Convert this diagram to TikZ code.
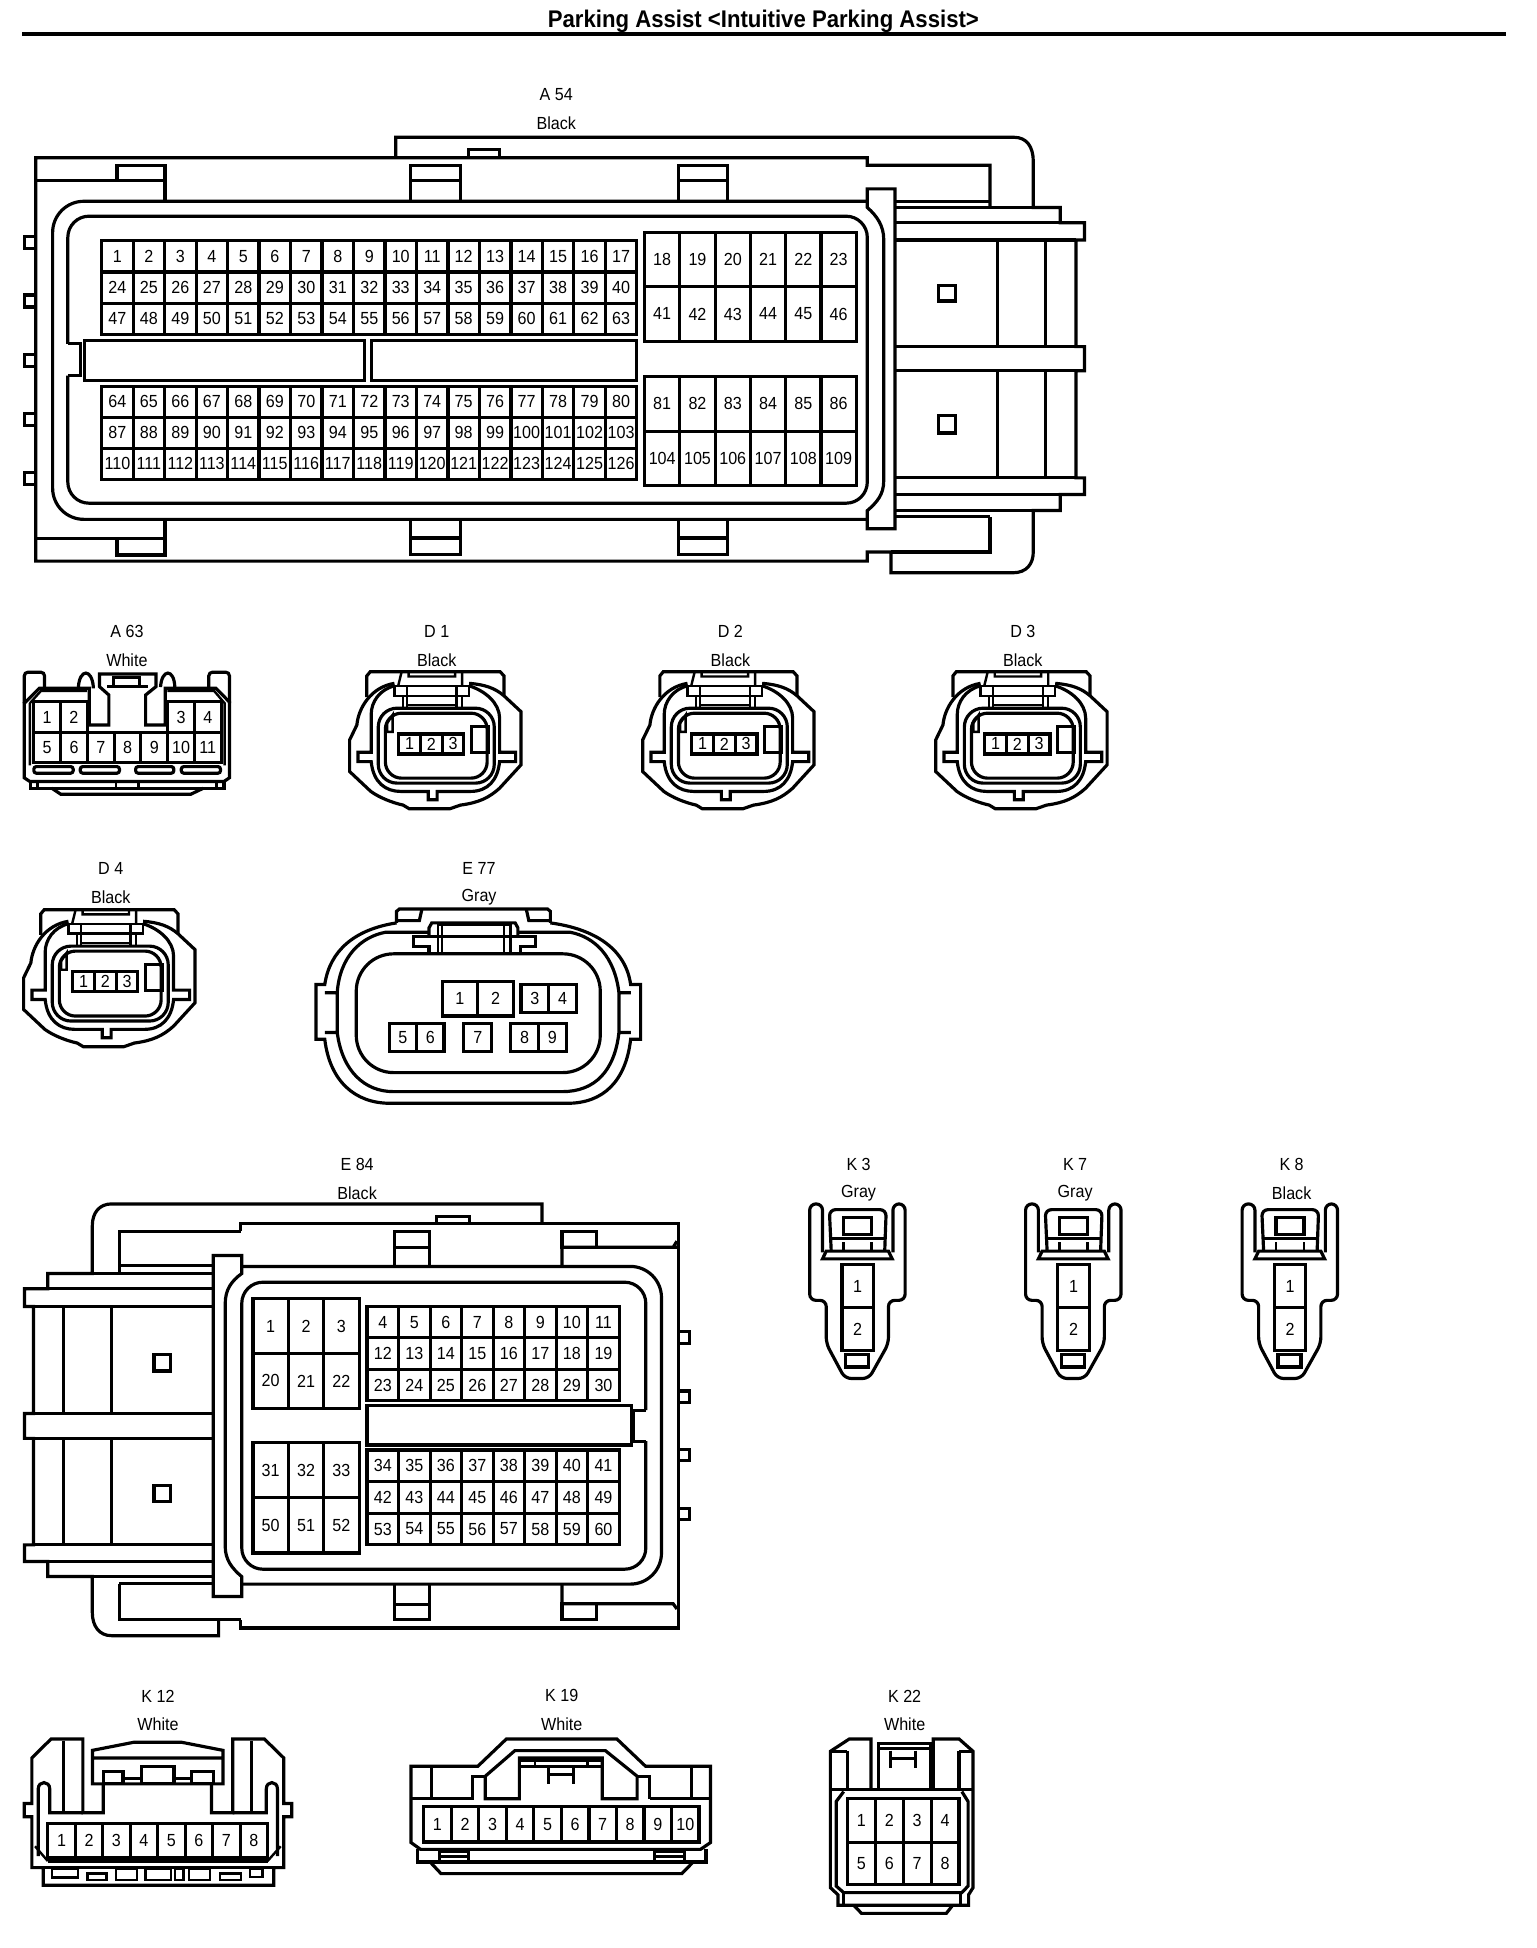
\documentclass[tikz,border=0pt]{standalone}
\usepackage{fontspec}
\setmainfont[FakeStretch=0.92]{Liberation Sans}
\usepackage{tikz}
\tikzset{
    pincell/.style={draw,inner sep=0,outer sep=0,font=\fontsize{8}{9}\selectfont},
    conlabel/.style={inner sep=0,font=\fontsize{8}{9}\selectfont},
    thinline/.style={line width=1.1pt}
}

\begin{document}
\begin{tikzpicture}[x=0.01997cm,y=-0.01995cm,line width=1.45pt,line join=miter]
    \providecommand{\pinrow}{}
    % prefix, left, top, cell width, cell height, numbers
    \renewcommand{\pinrow}[6]{
        \foreach \n [count=\i from 0] in {#6} {
            \node[pincell,minimum width=#4*0.01997cm,minimum height=#5*0.01995cm] (#1p\n) at ({#2+(\i+0.5)*#4},{#3+0.5*#5}) {\n};
        }
    }
    \providecommand{\conname}{}
    % node name, x, y, connector, colour
    \renewcommand{\conname}[5]{
        \node[conlabel] (#1) at (#2,#3) {#4};
        \node[conlabel] (#1c) at (#2,#3+23) {#5};
    }
    \providecommand{\dplug}{}
    % prefix, shift x, shift y (drawn at D 1)
    \renewcommand{\dplug}[3]{
        \begin{scope}[shift={(#2,#3)}]
            \draw (294.8,561) -- (294.8,544) -- (297.5,540.7) -- (402,540.7) -- (405,544) -- (405,560);
            \draw (317,550) .. controls (298,553) and (288,570) .. (286.8,583.5) -- (281,595.5) -- (281,621) -- (298,637) .. controls (305,642) and (315,646) .. (324,648) -- (329,651) -- (361.4,651) -- (370,648) .. controls (385,646) and (393,642) .. (401.5,634.4) -- (418.7,615.6) -- (418.7,572.8) -- (405,560) .. controls (398,554) and (390,551) .. (377,550);
            \draw (317,552) .. controls (305,555) and (298.3,565) .. (298.3,575) -- (298.3,605.4) -- (287.7,605.4) -- (287.7,613) -- (298.3,613) .. controls (300,630) and (310,637) .. (322,637) -- (344.2,637) -- (344.2,643.7) -- (351.3,643.7) -- (351.3,637) -- (378,637) .. controls (392,637) and (400,628) .. (401.5,613) -- (414.4,613) -- (414.4,605.4) -- (401.5,605.4) -- (401.5,578) .. controls (401.5,566) and (390,556) .. (377,552);
            \draw[rounded corners=0.3cm] (304,570) rectangle (397.2,630.3);
            \draw[rounded corners=0.26cm] (309.7,574) rectangle (391.5,626.3);
            \draw[thinline] (317,552) rectangle (327,560) (367,552) rectangle (377,560);
            \draw[thinline] (327,552) -- (367,552) (327,560) -- (367,560) (327,567.4) -- (367,567.4);
            \draw[thinline] (324,560) -- (324,570) (327,560) -- (327,570) (367,560) -- (367,570) (371.4,560) -- (371.4,570);
            \draw[thinline] (322.7,541) -- (320,552) (371.4,541) -- (371.4,552) (328.4,541) -- (328.4,544.5) -- (365.7,544.5) -- (365.7,541);
            \draw[thinline] (315.5,575.5) -- (311.2,582) -- (311.2,589) -- (315.5,589) -- cycle;
            \pinrow{#1}{320.4}{590.7}{17.47}{16.1}{1,2,3}
            \draw (378.6,585) rectangle (392.3,605.4);
        \end{scope}
    }
    \providecommand{\kplug}{}
    % prefix, shift x (drawn at K 3)
    \renewcommand{\kplug}[2]{
        \begin{scope}[shift={(#2,0)}]
            \draw[rounded corners=0.1cm] (661,1008) -- (661,969) -- (650.7,969) -- (650.7,1046.6) -- (664,1046.6) -- (664,1081.4) -- (679,1109.5) -- (698.3,1109.5) -- (714,1081.4) -- (714,1046.6) -- (727.4,1046.6) -- (727.4,969) -- (717.6,969) -- (717.6,1008);
            \draw[rounded corners=0.1cm] (668,1007) -- (666.5,973.6) -- (712.2,973.6) -- (711,1007);
            \draw (678,979.7) rectangle (700.4,993.6);
            \draw (667.5,997) -- (711,997);
            \draw[thinline] (678,1000) -- (678,1007) (700.4,1000) -- (700.4,1007);
            \draw (664,1007) -- (714,1007) -- (717,1013.2) -- (661,1013.2) -- cycle;
            \pinrow{#1}{676.6}{1017.7}{25.2}{34.8}{1}
            \pinrow{#1}{676.6}{1052.5}{25.2}{34.8}{2}
            \draw (679.6,1090.5) rectangle (698,1100.2);
        \end{scope}
    }
    \useasboundingbox (0,0) rectangle (1234.85,1567.9);
    \fill[white] (0,0) rectangle (1234.85,1567.9);
    % title
    \node[inner sep=0,font=\fontsize{11}{13}\selectfont\bfseries] (title) at (613.5,17.5) {Parking Assist <Intuitive Parking Assist>};
    \coordinate (rulel) at (18,27.5);
    \coordinate (ruler) at (1210,27.5);
    \draw[line width=2pt] (rulel) -- (ruler);

    % A 54
    \conname{afs}{447}{76}{A 54}{Black}
    \draw (318,127) -- (318,110.5) -- (815,110.5) .. controls (825,110.5) and (830.4,118) .. (830.4,130) -- (830.4,167) -- (852,167) -- (852,179.3) -- (871.6,179.3) -- (871.6,193.2) -- (864.7,193.2) -- (864.7,279) -- (871.6,279) -- (871.6,298.4) -- (864.7,298.4) -- (864.7,384.6) -- (871.6,384.6) -- (871.6,398) -- (852,398) -- (852,410.9) -- (830.4,410.9) -- (830.4,444) .. controls (830.4,454) and (825,461) .. (814,461) -- (716,461) -- (716,444.3) -- (697,444.3) -- (697,451.6) -- (28.7,451.6) -- (28.7,127) -- (697,127) -- (697,133) -- (795.6,133) -- (795.6,167);
    \draw (716,444.3) -- (795.6,444.3) -- (795.6,416);
    \draw (376.4,127) -- (376.4,120.3) -- (401.5,120.3) -- (401.5,127);
    \draw (28.7,145.2) -- (132.6,145.2) -- (132.6,162) (94,145.2) -- (94,133.3) -- (132.6,133.3) -- (132.6,145.2);
    \draw (28.7,433.5) -- (132.6,433.5) (132.6,418) -- (132.6,446.7) -- (94,446.7) -- (94,433.5);
    \foreach \xa/\xb in {330/370.3,545.5/584.7} {
        \draw (\xa,162) -- (\xa,133.3) -- (\xb,133.3) -- (\xb,162) (\xa,145.4) -- (\xb,145.4);
        \draw (\xa,418) -- (\xa,446.4) -- (\xb,446.4) -- (\xb,418) (\xa,433) -- (\xb,433);
    }
    \foreach \y in {190.6,237.5,285.4,333,380.4} {
        \draw (29,\y) -- (19.7,\y) -- (19.7,\y+9.6) -- (29,\y+9.6);
    }
    \draw[rounded corners=0.5cm] (697,162) -- (42.3,162) -- (42.3,418) -- (697,418);
    \draw[rounded corners=0.34cm] (54.5,276.7) -- (54.5,174) -- (697,174) -- (697,405) -- (54.5,405) -- (54.5,302.3);
    \draw (54.5,302.3) -- (64.5,302.3) -- (64.5,276.7) -- (54.5,276.7);
    \draw (68,274) rectangle (293.2,306) (298.6,274) rectangle (511.6,306);
    \draw[fill=white] (697,152) -- (719.2,152) -- (719.2,425.6) -- (697,425.6) -- (697,411) .. controls (705,404) and (710.2,398) .. (710.2,386.8) -- (710.2,192.7) .. controls (710.2,182) and (705,174) .. (697,167) -- cycle;
    \draw (719.2,162.4) -- (795.6,162.4) (719.2,167) -- (830.4,167) (719.2,416) -- (795.6,416) (719.2,410.9) -- (830.4,410.9);
    \foreach \y in {179.3,193.2,279,298.4,384.6,398} {
        \draw (719.2,\y) -- (864.7,\y);
    }
    \foreach \x in {801.6,840} {
        \draw (\x,193.2) -- (\x,279) (\x,298.4) -- (\x,384.6);
    }
    \draw (754,229.6) rectangle (767.8,242.2) (754,334.6) rectangle (767.8,348.5);
    \pinrow{afs}{81.7}{193.7}{25.3}{25.2}{1,...,17}
    \pinrow{afs}{81.7}{218.9}{25.3}{25.2}{24,...,40}
    \pinrow{afs}{81.7}{244.1}{25.3}{25.2}{47,...,63}
    \pinrow{afs}{81.7}{311}{25.3}{24.9}{64,...,80}
    \pinrow{afs}{81.7}{335.9}{25.3}{24.9}{87,...,103}
    \pinrow{afs}{81.7}{360.8}{25.3}{24.9}{110,...,126}
    \pinrow{afs}{518}{187}{28.35}{43.8}{18,...,23}
    \pinrow{afs}{518}{230.8}{28.35}{43.8}{41,...,46}
    \pinrow{afs}{518}{303}{28.35}{44}{81,...,86}
    \pinrow{afs}{518}{347}{28.35}{44}{104,...,109}

    % A 63
    \conname{asx}{102}{508}{A 63}{White}
    \draw (20.6,565) -- (31.5,554) -- (71.7,554) -- (71.7,583.5) -- (87.5,583.5) -- (87.5,559.4) -- (80,552.7) -- (80,542.5) -- (125.3,542.5) -- (125.3,552.7) -- (117,559.4) -- (117,583.5) -- (132.8,583.5) -- (132.8,554) -- (173.5,554) -- (184.4,565) -- (184.4,626) -- (180,629) -- (24,629) -- (19.5,626) -- (19.5,566) -- cycle;
    \draw[rounded corners=0.06cm] (19.5,566) -- (19.5,541) -- (35.8,541) -- (35.8,553);
    \draw[rounded corners=0.06cm] (167.8,553) -- (167.8,541) -- (184.4,541) -- (184.4,566);
    \draw (63,553) .. controls (64,538) and (74,538) .. (75,553) -- (75,554);
    \draw (129,553) .. controls (130,538) and (140,538) .. (140.5,553);
    \draw[thinline] (24,566) -- (33,556) -- (70,556) (134.5,556) -- (172,556) -- (180.5,566) -- (180.5,616) (24,566) -- (24,616);
    \draw[thinline] (86,552.7) -- (119,552.7);
    \draw (91,552.7) -- (91,545.5) -- (112.4,545.5) -- (112.4,552.7);
    \pinrow{asx}{27.2}{564.8}{21.5}{24.6}{1,2}
    \pinrow{asx}{134.8}{564.8}{21.5}{24.6}{3,4}
    \pinrow{asx}{27.2}{589.4}{21.51}{24.1}{5,...,11}
    \foreach \xa/\xb in {27.2/58.8,64.5/96,109/139.7,145.7/177.2} {
        \draw[rounded corners=0.04cm] (\xa,617) rectangle (\xb,622.3);
    }
    \draw (24.4,629) -- (24.4,634.4) -- (180,634.4) -- (180,629);
    \draw[thinline] (30,628) -- (30,634.4) (93.2,628) -- (93.2,634.4) (111.3,628) -- (111.3,634.4) (174,628) -- (174,634.4);
    \draw (41.6,634.4) -- (48.8,639.2) -- (153.4,639.2) -- (163.5,634.4);

    % D 1 to D 4
    \conname{don}{351}{508}{D 1}{Black}
    \conname{dtw}{587}{508}{D 2}{Black}
    \conname{dth}{822}{508}{D 3}{Black}
    \conname{dfo}{89}{699}{D 4}{Black}
    \dplug{don}{0}{0}
    \dplug{dtw}{235.5}{0}
    \dplug{dth}{471}{0}
    \dplug{dfo}{-262}{191.5}

    % E 77
    \conname{esv}{385}{699}{E 77}{Gray}
    \draw (318.7,742.8) -- (318.7,733.5) -- (321,731.6) -- (440,731.6) -- (442.3,733.5) -- (442.3,742.8);
    \draw (318.7,742.8) .. controls (285,748) and (265,765) .. (261,792.4) -- (254,792.4) -- (254,836.5) -- (261,836.5) .. controls (265,870) and (285,888) .. (313.5,888) -- (456,888) .. controls (485,888) and (503,870) .. (506.8,836.5) -- (514.8,836.5) -- (514.8,792.4) -- (506.8,792.4) .. controls (503,765) and (480,748) .. (442.3,742.8);
    \draw (318.7,741) -- (337,741) -- (339,732) (423,732) -- (425,741) -- (442.3,741);
    \draw (344.8,750.3) -- (310,750.3) .. controls (290,754) and (273,770) .. (271,799) -- (261,799) (271,799) -- (271,831) -- (261,831) (271,831) .. controls (275,862) and (293,878.6) .. (316,878.6) -- (452,878.6) .. controls (478,878.6) and (494,862) .. (497.4,831) -- (507,831) (497.4,831) -- (497.4,799) -- (507,799) (497.4,799) .. controls (494,770) and (478,754) .. (458,750.3) -- (416.2,750.3);
    \draw[rounded corners=0.6cm] (286.3,767.7) rectangle (482.4,863.3);
    \draw (344.8,753.5) -- (344.8,746.8) -- (347,742.8) -- (414,742.8) -- (416.2,746.8) -- (416.2,753.5);
    \draw (344.8,767.7) -- (344.8,762) -- (332.6,762) -- (332.6,753.5) -- (430.1,753.5) -- (430.1,762) -- (418,762) -- (418,767.7);
    \draw[thinline] (351.8,744) -- (351.8,767.7) (355.3,744) -- (355.3,767.7) (405,744) -- (405,767.7) (410.3,744) -- (410.3,767.7) (351.8,744) -- (410.3,744);
    \pinrow{esv}{355.3}{789.7}{28.7}{28.1}{1,2}
    \pinrow{esv}{418.7}{792.4}{22.25}{22.6}{3,4}
    \pinrow{esv}{312.8}{823.7}{22}{22.7}{5,6}
    \pinrow{esv}{372.7}{823.7}{22.6}{22.7}{7}
    \pinrow{esv}{410.3}{823.7}{22.45}{22.7}{8,9}

    % E 84
    \conname{eei}{287}{937}{E 84}{Black}
    \draw (193.6,1303.6) -- (96,1303.6) -- (96,1274.7) (193.6,991) -- (96,991) -- (96,1025);
    \draw (435.6,985) -- (435.6,969) -- (89.6,969) .. controls (80,969) and (74.2,976) .. (74.2,986.4) -- (74.2,1025) -- (38.4,1025) -- (38.4,1037.3) -- (19.7,1037.3) -- (19.7,1051.5) -- (26.9,1051.5) -- (26.9,1137.7) -- (19.7,1137.7) -- (19.7,1157.7) -- (26.9,1157.7) -- (26.9,1243.4) -- (19.7,1243.4) -- (19.7,1256.8) -- (38.4,1256.8) -- (38.4,1268.8) -- (74.2,1268.8) -- (74.2,1298) .. controls (74.2,1309) and (80,1316.5) .. (89.6,1316.5) -- (175.7,1316.5) -- (175.7,1303.6);
    \draw (193.6,991) -- (193.6,985) -- (545,985) -- (545,1310.3) -- (193.6,1310.3) -- (193.6,1303.6);
    \draw (351,985) -- (351,979) -- (377,979) -- (377,985);
    \draw (451.7,1019) -- (451.7,1003.8) -- (541,1003.8) -- (544,999) (541,1003.8) -- (544,1003.8);
    \draw (451.7,1275) -- (451.7,1290.8) -- (541,1290.8) -- (544,1295);
    \draw (451.7,991) rectangle (479.7,1003.8) (451.7,1290.8) rectangle (479.7,1303.6);
    \draw (317.3,1019) -- (317.3,991) -- (344.9,991) -- (344.9,1019) (317.3,1004) -- (344.9,1004);
    \draw (317.3,1275) -- (317.3,1303.6) -- (344.9,1303.6) -- (344.9,1275) (317.3,1291.6) -- (344.9,1291.6);
    \foreach \y in {1072,1119.5,1166.6,1214} {
        \draw (544.2,\y) -- (554,\y) -- (554,\y+9.2) -- (544.2,\y+9.2);
    }
    \draw[rounded corners=0.5cm] (194.3,1019.3) -- (531.6,1019.3) -- (531.6,1275) -- (194.3,1275);
    \draw[rounded corners=0.34cm] (519,1135) -- (519,1032) -- (194.3,1032) -- (194.3,1263) -- (519,1263) -- (519,1160);
    \draw (519,1160) -- (509,1160) -- (509,1135) -- (519,1135);
    \draw (295,1131.5) rectangle (507.3,1163);
    \draw[fill=white] (194.3,1010.5) -- (171.4,1010.5) -- (171.4,1285) -- (194.3,1285) -- (194.3,1269) .. controls (186,1262) and (181,1255) .. (181,1244.7) -- (181,1049.3) .. controls (181,1038) and (186,1031) .. (194.3,1025) -- cycle;
    \draw (96,1018.5) -- (171.4,1018.5) (74.2,1025) -- (171.4,1025) (96,1274.7) -- (171.4,1274.7) (38.4,1268.8) -- (171.4,1268.8);
    \foreach \y in {1037.3,1051.5,1137.7,1157.7,1243.4,1256.8} {
        \draw (26.9,\y) -- (171.4,\y);
    }
    \foreach \x in {51.3,89.6} {
        \draw (\x,1051.5) -- (\x,1137.7) (\x,1157.7) -- (\x,1243.4);
    }
    \draw (123.7,1090) rectangle (137.3,1103.5) (123.7,1195.5) rectangle (137.3,1208.8);
    \pinrow{eei}{203.3}{1045.3}{28.43}{44.1}{1,2,3}
    \pinrow{eei}{203.3}{1089.4}{28.43}{44.1}{20,21,22}
    \pinrow{eei}{203.3}{1161.2}{28.43}{44.4}{31,32,33}
    \pinrow{eei}{203.3}{1205.6}{28.43}{44.4}{50,51,52}
    \pinrow{eei}{295}{1051.5}{25.33}{25.33}{4,...,11}
    \pinrow{eei}{295}{1076.83}{25.33}{25.33}{12,...,19}
    \pinrow{eei}{295}{1102.16}{25.33}{25.33}{23,...,30}
    \pinrow{eei}{295}{1167}{25.33}{25.47}{34,...,41}
    \pinrow{eei}{295}{1192.47}{25.33}{25.47}{42,...,49}
    \pinrow{eei}{295}{1217.94}{25.33}{25.47}{53,...,60}

    % K 3, K 7, K 8
    \conname{kth}{690}{937}{K 3}{Gray}
    \conname{ksv}{864}{937}{K 7}{Gray}
    \conname{ket}{1038}{937}{K 8}{Black}
    \kplug{kth}{0}
    \kplug{ksv}{173.5}
    \kplug{ket}{347.5}

    % K 12
    \conname{ktw}{127}{1365}{K 12}{White}
    \draw (83,1435.8) -- (83,1459) -- (66.6,1459) -- (66.6,1399.7) -- (41,1399.7) -- (25.6,1414.9) -- (25.6,1451.6) -- (19.5,1451.6) -- (19.5,1462.3) -- (25.6,1462.3) -- (25.6,1503.2) -- (34.8,1503.2) -- (34.8,1517.4) -- (220,1517.4) -- (220,1503.2) -- (228,1503.2) -- (228,1462.3) -- (234.5,1462.3) -- (234.5,1451.6) -- (228,1451.6) -- (228,1414.9) -- (212.5,1399.7) -- (187,1399.7) -- (187,1459) -- (170,1459) -- (170,1435.8);
    \draw (25.6,1503.2) -- (228,1503.2) (38.4,1497.9) -- (215,1497.9);
    \draw[thinline] (51,1401) -- (51,1458) (202,1401) -- (202,1458);
    \draw (30.7,1494) -- (30.7,1440) .. controls (30.7,1433) and (40,1433) .. (40,1440) -- (40,1459) -- (66.6,1459);
    \draw (223,1494) -- (223,1440) .. controls (223,1433) and (214,1433) .. (214,1440) -- (214,1459) -- (187,1459);
    \draw[thinline] (28.2,1486) -- (38.4,1497.9) (225.6,1486) -- (215,1497.9);
    \draw (74.3,1435.8) -- (74.3,1408.8) -- (107.5,1402.3) -- (146,1402.3) -- (179.2,1408.8) -- (179.2,1435.8) -- cycle (74.3,1414.9) -- (179.2,1414.9);
    \draw (83,1425.6) rectangle (98.8,1435.8) (113.7,1421.6) rectangle (139.8,1435.8) (153.6,1425.6) rectangle (171.6,1435.8);
    \draw (98.8,1431.5) -- (113.7,1431.5) (139.8,1431.5) -- (153.6,1431.5);
    \draw[thinline] (42,1503.8) rectangle (62.5,1511.3) (70.2,1507.8) rectangle (85.5,1513.2) (93.2,1503.8) rectangle (110,1513.2) (116.8,1503.8) rectangle (137.2,1513.2) (140.8,1503.8) rectangle (147.5,1513.2) (152,1503.8) rectangle (169,1513.2) (176.7,1507.8) rectangle (193.6,1513.2) (200.7,1503.8) rectangle (211,1510.5);
    \pinrow{ktw}{38.4}{1467.9}{22.08}{27.3}{1,...,8}

    % K 19
    \conname{kni}{451.5}{1365}{K 19}{White}
    \draw (330.3,1421.6) -- (384,1421.6) -- (407,1399.6) -- (495.7,1399.6) -- (518.8,1421.6) -- (571,1421.6) -- (571,1483) -- (563,1488.5) -- (338,1488.5) -- (330.3,1483) -- cycle;
    \draw (335.4,1488.5) -- (335.4,1498.7) -- (567.4,1498.7) -- (567.4,1488.5);
    \draw (345.7,1498.7) -- (354.4,1508) -- (548,1508) -- (557,1498.7);
    \draw (330.3,1447.8) -- (380,1447.8) -- (380,1429.6) -- (390,1429.6) (347,1423) -- (347,1447.8);
    \draw (522,1447.8) -- (571,1447.8) (522,1447.8) -- (522,1429.6) -- (512,1429.6) (555.6,1423) -- (555.6,1447.8);
    \draw (390,1447.8) -- (390,1429.6) -- (413.8,1409) -- (486.5,1409) -- (512,1429.6) -- (512,1447.8) -- (484,1447.8) -- (484,1415) -- (417.4,1415) -- (417.4,1447.8) -- cycle;
    \draw (417.4,1416.5) -- (484,1416.5) (417.4,1421.6) -- (484,1421.6);
    \draw[thinline] (430,1416.5) -- (430,1421.6) (472,1416.5) -- (472,1421.6);
    \draw (440.5,1421.6) -- (440.5,1436) (461,1421.6) -- (461,1436) (440.5,1428.3) -- (461,1428.3);
    \pinrow{kni}{340.5}{1453.7}{22.13}{28.9}{1,...,10}
    \draw (353.4,1490) rectangle (376.4,1498) (353.4,1494) -- (376.4,1494);
    \draw (526,1490) rectangle (550,1498) (526,1494) -- (550,1494);

    % K 22
    \conname{ktt}{727}{1365}{K 22}{White}
    \draw (700,1440.3) -- (700,1399.6) -- (682.6,1399.6) -- (667.3,1409.6) -- (667.3,1519.3) -- (673.4,1525) -- (673.4,1533.5) -- (778.4,1533.5) -- (778.4,1525) -- (782,1519.3) -- (782,1409.6) -- (770.7,1399.6) -- (750,1399.6) -- (750,1440.3);
    \draw (667.3,1440.3) -- (782,1440.3) (681,1409.6) -- (667.3,1409.6) (681,1409.6) -- (681,1440.3) (770.7,1409.6) -- (782,1409.6) (770.7,1409.6) -- (770.7,1440.3);
    \draw (705.7,1440.3) -- (705.7,1403) -- (747.7,1403) -- (747.7,1440.3) (705.7,1407.4) -- (747.7,1407.4);
    \draw (715.4,1409) -- (715.4,1423) (735.9,1409) -- (735.9,1423) (715.4,1415.5) -- (735.9,1415.5);
    \draw (678,1442) -- (672,1450) -- (672,1518) -- (678,1523.3) -- (773,1523.3) -- (778,1518) -- (778,1450) -- (773,1442);
    \draw[thinline] (678,1523.3) -- (678,1533.5) (772,1523.3) -- (772,1533.5);
    \draw (686,1533.5) -- (692.4,1540) -- (760.5,1540) -- (765.6,1533.5);
    \pinrow{ktt}{681}{1447.8}{22.43}{35.2}{1,...,4}
    \pinrow{ktt}{681}{1483}{22.43}{33.6}{5,...,8}
\end{tikzpicture}
\end{document}
